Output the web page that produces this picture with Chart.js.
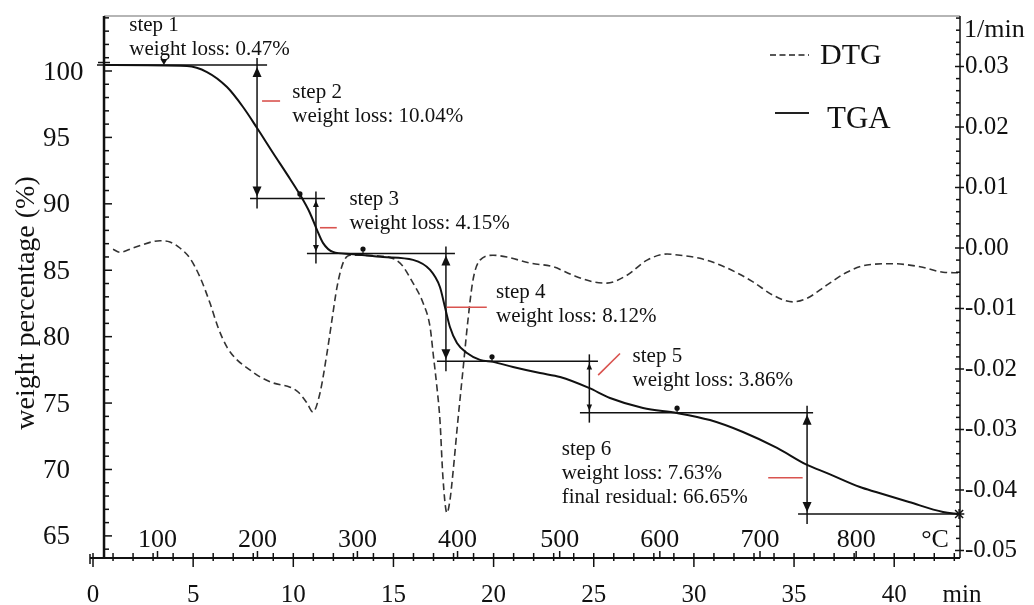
<!DOCTYPE html>
<html><head><meta charset="utf-8">
<script src="https://cdn.jsdelivr.net/npm/chart.js@4.4.1/dist/chart.umd.min.js"></script>
<style>html,body{margin:0;padding:0;background:#fff;overflow:hidden}#wrap{width:1034px;height:605px}</style>
</head><body><div id="wrap"><canvas id="c" width="1034" height="605"></canvas></div>
<script>
// ---------------- data ----------------
const tgaTime = [0.55, 4.69, 5.69, 6.69, 7.49, 8.19, 8.99, 9.84, 10.34, 10.83, 11.18, 11.48, 11.98, 12.83, 14.48, 15.98, 16.83, 17.32, 17.57, 17.82, 18.17, 18.67, 19.32, 19.97, 20.97, 22.32, 23.32, 24.76, 25.81, 27.46, 29.16, 30.80, 32.45, 34.15, 35.65, 36.65, 38.29, 39.09, 40.74, 42.44, 43.24];
const tgaWeight = [100.45, 100.37, 99.92, 98.79, 97.29, 95.71, 93.83, 91.87, 90.67, 89.31, 88.04, 87.06, 86.38, 86.23, 86.00, 85.78, 85.02, 83.74, 82.23, 80.73, 79.52, 78.77, 78.25, 78.10, 77.72, 77.26, 76.96, 76.14, 75.38, 74.63, 74.25, 73.72, 72.82, 71.62, 70.34, 69.73, 68.68, 68.30, 67.55, 66.80, 66.65];

const dtgTime = [1.00, 1.35, 2.00, 3.35, 3.84, 4.34, 4.84, 5.34, 5.84, 6.24, 6.69, 7.19, 7.69, 8.34, 8.99, 9.84, 10.24, 10.68, 10.98, 11.33, 11.68, 11.93, 12.18, 12.48, 12.83, 14.18, 15.33, 15.98, 16.48, 16.83, 16.98, 17.17, 17.32, 17.47, 17.67, 17.82, 17.97, 18.22, 18.47, 18.72, 18.97, 19.32, 19.97, 20.67, 21.82, 22.97, 23.96, 24.96, 25.66, 26.66, 27.66, 28.66, 29.31, 30.30, 31.65, 32.95, 33.95, 34.95, 35.65, 36.65, 37.64, 38.64, 39.94, 41.29, 42.44, 43.19];
const dtgRate = [-0.0002, -0.0007, 0.0000, 0.0012, 0.0010, 0.0000, -0.0017, -0.0048, -0.0091, -0.0131, -0.0164, -0.0185, -0.0198, -0.0213, -0.0223, -0.0230, -0.0238, -0.0256, -0.0271, -0.0240, -0.0174, -0.0119, -0.0065, -0.0025, -0.0012, -0.0013, -0.0025, -0.0058, -0.0091, -0.0131, -0.0174, -0.0230, -0.0284, -0.0379, -0.0438, -0.0417, -0.0372, -0.0284, -0.0202, -0.0119, -0.0053, -0.0020, -0.0012, -0.0015, -0.0025, -0.0031, -0.0045, -0.0056, -0.0058, -0.0045, -0.0020, -0.0010, -0.0012, -0.0017, -0.0033, -0.0056, -0.0078, -0.0089, -0.0083, -0.0061, -0.0040, -0.0028, -0.0026, -0.0031, -0.0040, -0.0041];

// axis tick labels
const minuteTicks = [0, 5, 10, 15, 20, 25, 30, 35, 40];
const weightTicks = [65, 70, 75, 80, 85, 90, 95, 100];
const rateTicks = [0.03, 0.02, 0.01, 0.00, -0.01, -0.02, -0.03, -0.04, -0.05];
const tempLabels = ['100', '200', '300', '400', '500', '600', '700', '800'];
const tempTime = [3.22, 8.21, 13.2, 18.2, 23.3, 28.3, 33.3, 38.1];

// step annotations (weight levels in %, times in min)
const stepLevels = [100.45, 90.41, 86.26, 78.14, 74.28, 66.65];
const stepLineFrom = [0.2, 7.84, 10.68, 17.17, 24.31, 35.2];
const stepLineTo = [8.69, 11.58, 18.07, 25.21, 35.95, 43.5];
const arrowTime = [8.19, 11.13, 17.62, 24.78, 35.65];
const pinTime = [3.54, 10.33, 13.48, 19.92, 29.16, 43.24];
const stepTitles = ['step 1', 'step 2', 'step 3', 'step 4', 'step 5', 'step 6'];
const stepLoss = ['weight loss: 0.47%', 'weight loss: 10.04%', 'weight loss: 4.15%', 'weight loss: 8.12%', 'weight loss: 3.86%', 'weight loss: 7.63%'];
const residualText = 'final residual: 66.65%';
const stepLabelTime = [1.81, 9.95, 12.80, 20.12, 26.94, 23.40];
const stepLabelWeight = [103.46, 98.36, 90.29, 83.29, 78.49, 71.52];
const markFromTime = [8.44, 11.33, 17.66, 25.22, 33.71];
const markFromWeight = [97.74, 88.20, 82.21, 77.10, 69.38];
const markToTime = [9.34, 12.17, 19.66, 26.31, 35.43];
const markToWeight = [97.74, 88.20, 82.21, 78.73, 69.38];

// ---------------- drawing ----------------
const SERIF = '"Liberation Serif", "Times New Roman", serif';

function seg(ctx, x1, y1, x2, y2) { ctx.beginPath(); ctx.moveTo(x1, y1); ctx.lineTo(x2, y2); ctx.stroke(); }
function head(ctx, x, tipY, dir, len, half) {
  ctx.beginPath(); ctx.moveTo(x, tipY); ctx.lineTo(x - half, tipY + dir * len); ctx.lineTo(x + half, tipY + dir * len); ctx.closePath(); ctx.fill();
}

const overlay = {
  id: 'overlay',
  beforeDraw(chart) {
    const c = chart.ctx; c.save(); c.fillStyle = '#fff'; c.fillRect(0, 0, chart.width, chart.height); c.restore();
  },
  afterDatasetsDraw(chart) {
    const ctx = chart.ctx, ca = chart.chartArea;
    const X = chart.scales.x, Y = chart.scales.y, R = chart.scales.y2;
    const px = t => X.getPixelForValue(t), py = w => Y.getPixelForValue(w), pr = v => R.getPixelForValue(v);
    ctx.save();
    ctx.lineCap = 'butt';
    const ax = px(0.55);

    // frame
    ctx.strokeStyle = '#9c9c9c'; ctx.lineWidth = 1.5; seg(ctx, ax, ca.top, ca.right, ca.top);
    ctx.strokeStyle = '#111'; ctx.lineWidth = 2.5; seg(ctx, ax, ca.top, ax, ca.bottom);
    ctx.lineWidth = 2; seg(ctx, ca.left, ca.bottom, ca.right, ca.bottom);
    ctx.lineWidth = 1.5; seg(ctx, ca.right, ca.top, ca.right, ca.bottom);

    // left ticks
    ctx.lineWidth = 1.5;
    for (let v = 64; v <= 104; v++) { const y = py(v); seg(ctx, ax, y, ax + (v % 5 === 0 ? 8 : 5), y); }
    // axis break near the first plateau
    seg(ctx, ax - 6, py(stepLevels[0]) - 2.5, ax + 6, py(stepLevels[0]) - 2.5);
    // bottom ticks
    const by = ca.bottom;
    seg(ctx, ca.left, by - 4, ca.left, by + 6);
    for (let t = 0; t <= 43; t++) { const x = px(t); seg(ctx, x, by - 5, x, by + (t % 5 === 0 ? 9 : 3)); }
    tempTime.forEach(t => seg(ctx, px(t), by - 7, px(t), by));
    // right ticks
    for (let k = -25; k <= 19; k++) {
      const v = k * 0.002, y = pr(v);
      if (k % 5 === 0) seg(ctx, ca.right - 5, y, ca.right + 4, y); else seg(ctx, ca.right - 4, y, ca.right, y);
    }

    // tick labels
    ctx.fillStyle = '#111';
    ctx.font = '27px ' + SERIF; ctx.textAlign = 'left'; ctx.textBaseline = 'middle';
    weightTicks.forEach(v => ctx.fillText(String(v), 43, py(v) + 1.5));
    ctx.font = '25px ' + SERIF; ctx.textAlign = 'center'; ctx.textBaseline = 'alphabetic';
    minuteTicks.forEach(t => ctx.fillText(String(t), px(t), 602));
    ctx.fillText('min', ca.right + 2, 602);
    ctx.font = '26px ' + SERIF;
    tempLabels.forEach((s, i) => ctx.fillText(s, px(tempTime[i]), 547));
    ctx.fillText('°C', px(42.04), 547);
    ctx.font = '25px ' + SERIF; ctx.textAlign = 'left'; ctx.textBaseline = 'middle';
    rateTicks.forEach(v => ctx.fillText(v.toFixed(2), ca.right + 5, pr(v)));
    ctx.font = '26px ' + SERIF; ctx.textBaseline = 'alphabetic';
    ctx.fillText('1/min', ca.right + 4, 37);

    // y title
    ctx.save(); ctx.translate(27, 303); ctx.rotate(-Math.PI / 2);
    ctx.font = '28px ' + SERIF; ctx.textAlign = 'center'; ctx.textBaseline = 'middle';
    ctx.fillText('weight percentage (%)', 0, 0); ctx.restore();

    // legend
    ctx.strokeStyle = '#222'; ctx.lineWidth = 1.6; ctx.setLineDash([6, 3.5]); seg(ctx, 770, 55, 809, 55); ctx.setLineDash([]);
    ctx.lineWidth = 2; seg(ctx, 775, 113, 809, 113);
    ctx.textAlign = 'left'; ctx.textBaseline = 'alphabetic';
    ctx.font = '30px ' + SERIF; ctx.fillText('DTG', 820, 64);
    ctx.font = '31px ' + SERIF; ctx.fillText('TGA', 827, 128);

    // step level lines
    ctx.strokeStyle = '#111'; ctx.fillStyle = '#111'; ctx.lineWidth = 1.5;
    stepLevels.forEach((w, i) => seg(ctx, px(stepLineFrom[i]), py(w), px(stepLineTo[i]), py(w)));
    // arrows
    arrowTime.forEach((t, i) => {
      const x = px(t), yT = py(stepLevels[i]), yB = py(stepLevels[i + 1]);
      ctx.lineWidth = 1.5; seg(ctx, x, yT - 7, x, yB + 10);
      const len = Math.min(10, (yB - yT) * 0.12), half = len * 0.45;
      head(ctx, x, yT + 2, 1, len, half); head(ctx, x, yB - 2, -1, len, half);
    });
    // pins
    pinTime.forEach((t, i) => {
      const x = px(t), y = py(stepLevels[i]);
      if (i === 0) { ctx.beginPath(); ctx.moveTo(x - 3.5, y - 6); ctx.lineTo(x + 3.5, y - 6); ctx.lineTo(x, y); ctx.closePath(); ctx.fill(); }
      else if (i === pinTime.length - 1) { ctx.lineWidth = 1.5; seg(ctx, x - 4, y - 4, x + 4, y + 4); seg(ctx, x - 4, y + 4, x + 4, y - 4); seg(ctx, x, y - 5, x, y + 5); }
      else { ctx.lineWidth = 1.2; seg(ctx, x, y - 4, x, y); ctx.beginPath(); ctx.arc(x, y - 4.5, 2.6, 0, Math.PI * 2); ctx.fill(); }
    });
    // red marks
    ctx.strokeStyle = '#d9534f'; ctx.lineWidth = 1.6;
    markFromTime.forEach((t, i) => seg(ctx, px(t), py(markFromWeight[i]), px(markToTime[i]), py(markToWeight[i])));
    // step texts
    ctx.fillStyle = '#111'; ctx.font = '21px ' + SERIF; ctx.textAlign = 'left'; ctx.textBaseline = 'middle';
    stepTitles.forEach((s, i) => {
      const x = px(stepLabelTime[i]), y = py(stepLabelWeight[i]);
      ctx.fillText(s, x, y); ctx.fillText(stepLoss[i], x, y + 24);
      if (i === stepTitles.length - 1) ctx.fillText(residualText, x, y + 48.5);
    });
    ctx.restore();
  }
};

const toPts = (xs, ys) => xs.map((x, i) => ({ x, y: ys[i] }));

new Chart(document.getElementById('c'), {
  type: 'line',
  data: {
    datasets: [
      { label: 'TGA', data: toPts(tgaTime, tgaWeight), yAxisID: 'y', borderColor: '#111', borderWidth: 2, pointRadius: 0, cubicInterpolationMode: 'monotone', fill: false },
      { label: 'DTG', data: toPts(dtgTime, dtgRate), yAxisID: 'y2', borderColor: '#333', borderWidth: 1.6, borderDash: [7, 4], pointRadius: 0, cubicInterpolationMode: 'monotone', fill: false }
    ]
  },
  options: {
    responsive: false, animation: false, devicePixelRatio: 1,
    layout: { padding: { left: 90, right: 74, top: 16, bottom: 47 } },
    plugins: { legend: { display: false }, tooltip: { enabled: false }, title: { display: false } },
    scales: {
      x: { type: 'linear', min: -0.15, max: 43.285, display: false },
      y: { type: 'linear', min: 63.336, max: 104.14, display: false },
      y2: { type: 'linear', min: -0.05124, max: 0.038347, display: false }
    }
  },
  plugins: [overlay]
});
</script>
</body></html>
